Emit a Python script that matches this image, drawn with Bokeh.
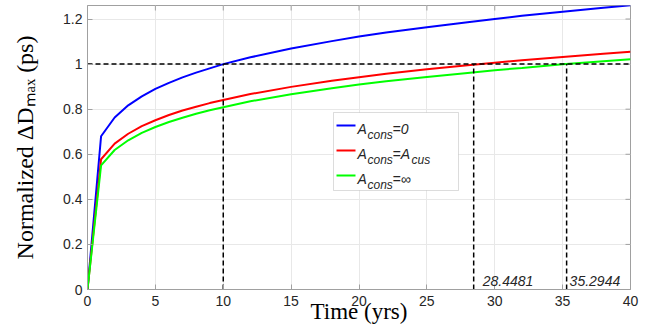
from bokeh.plotting import figure
from bokeh.models import Range1d, FixedTicker, Label, BoxAnnotation
from bokeh.embed import file_html
from bokeh.resources import INLINE

# ---------------- data ----------------
years = [0, 1, 2, 3, 4, 5, 6, 7, 8, 9, 10, 12, 15, 18, 20, 22, 25, 28, 30, 32, 35, 38, 40]
blue_zero = [0, 0.680, 0.763, 0.817, 0.857, 0.890, 0.917, 0.941, 0.962, 0.981, 1.000, 1.030,
             1.069, 1.102, 1.122, 1.140, 1.164, 1.186, 1.200, 1.214, 1.232, 1.250, 1.261]
red_cus = [0, 0.578, 0.647, 0.691, 0.725, 0.751, 0.774, 0.794, 0.811, 0.827, 0.841, 0.867,
           0.899, 0.926, 0.942, 0.957, 0.977, 0.995, 1.006, 1.017, 1.032, 1.046, 1.055]
green_inf = [0, 0.551, 0.619, 0.662, 0.695, 0.721, 0.743, 0.762, 0.780, 0.795, 0.809, 0.835,
             0.866, 0.893, 0.909, 0.924, 0.943, 0.961, 0.973, 0.983, 0.999, 1.013, 1.022]
series_colors = ["#0000ff", "#ff0000", "#00ff00"]
threshold = 1.0
cross_years = [10, 28.4481, 35.2944]
cross_labels = ["28.4481", "35.2944"]

x_ticks = [0, 5, 10, 15, 20, 25, 30, 35, 40]
y_ticks = [0, 0.2, 0.4, 0.6, 0.8, 1, 1.2]
y_tick_labels = ["0", "0.2", "0.4", "0.6", "0.8", "1", "1.2"]
x_title = "Time (yrs)"
y_title = "Normalized \u0394D\u2098\u2090\u2093 (ps)"

# ---------------- layout helpers (page pixel -> data) ----------------
W, H = 660, 329
FL, FR, FT, FB = 87, 630, 5, 289
X_END, Y_END = 40, 1.26
XS = (FR - FL) / X_END
YS = (FB - FT) / Y_END


def X(px):
    return (px - FL) / XS


def Y(py):
    return (FB - py) / YS


GRAY = "#a0a0a0"
TXT = "#262626"

p = figure(width=W, height=H, x_range=Range1d(0, X_END), y_range=Range1d(0, Y_END),
           output_backend="svg", toolbar_location=None,
           min_border_left=FL, min_border_right=W - FR, min_border_top=FT,
           min_border_bottom=H - FB,
           background_fill_color="white", border_fill_color="white")
p.outline_line_color = GRAY
p.outline_line_width = 1

for ax, ticks in ((p.xaxis[0], x_ticks), (p.yaxis[0], y_ticks)):
    ax.ticker = FixedTicker(ticks=ticks)
    ax.major_tick_in = 5
    ax.major_tick_out = 0
    ax.minor_tick_line_color = None
    ax.axis_line_color = GRAY
    ax.major_tick_line_color = GRAY
    ax.major_label_text_font = "Liberation Sans"
    ax.major_label_text_font_size = "14px"
    ax.major_label_text_color = TXT
    ax.axis_label_text_font = "Liberation Serif"
    ax.axis_label_text_font_style = "normal"
    ax.axis_label_text_color = "black"
p.xaxis[0].major_label_standoff = 6
p.yaxis[0].major_label_standoff = 5
p.yaxis[0].major_label_overrides = dict(zip(y_ticks, y_tick_labels))

p.xaxis[0].axis_label = x_title
p.xaxis[0].axis_label_text_font_size = "23px"
p.xaxis[0].axis_label_standoff = -10
p.yaxis[0].axis_label = y_title
p.yaxis[0].axis_label_text_font_size = "24px"
p.yaxis[0].axis_label_standoff = 22

p.xgrid.ticker = FixedTicker(ticks=x_ticks)
p.ygrid.ticker = FixedTicker(ticks=y_ticks)
p.grid.grid_line_color = "#e8e8e8"

# inward ticks on the top and right edges of the box
tick_len_x = 5 / XS
tick_len_y = 5 / YS
p.segment(x0=x_ticks, x1=x_ticks, y0=[Y_END] * len(x_ticks),
          y1=[Y_END - tick_len_y] * len(x_ticks), color=GRAY, line_width=1)
p.segment(x0=[X_END] * len(y_ticks), x1=[X_END - tick_len_x] * len(y_ticks),
          y0=y_ticks, y1=y_ticks, color=GRAY, line_width=1)

# curves
for ys, c in zip([blue_zero, red_cus, green_inf], series_colors):
    p.line(years, ys, color=c, line_width=2)

# dashed reference lines
p.line([x_ticks[0], x_ticks[-1]], [threshold, threshold], color="black", line_width=1.5,
       line_dash="5 3")
p.segment(x0=cross_years, y0=[0] * len(cross_years), x1=cross_years,
          y1=[threshold] * len(cross_years), color="black", line_width=1.5, line_dash="5 3")

# crossing value texts
for xv, txt, off in zip(cross_years[1:], cross_labels, [9, 3]):
    p.add_layout(Label(x=xv, y=Y(280), x_offset=off, text=txt, text_font="Liberation Sans",
                       text_font_style="italic", text_font_size="14px", text_color=TXT,
                       text_align="left", text_baseline="alphabetic"))

# legend
p.add_layout(BoxAnnotation(left=X(333), right=X(458), top=Y(112), bottom=Y(190),
                           fill_color="white", fill_alpha=1, line_color="#8c8c8c",
                           line_width=1))
rows = [125, 150, 175]
p.segment(x0=[X(336)] * 3, x1=[X(355)] * 3, y0=[Y(r) for r in rows], y1=[Y(r) for r in rows],
          color=series_colors, line_width=2, level="overlay")


def lab(px, py, txt, size):
    p.add_layout(Label(x=X(px), y=Y(py), text=txt, text_font="Liberation Sans",
                       text_font_style="italic", text_font_size=size, text_color=TXT,
                       text_align="left", text_baseline="alphabetic"))


for r in rows:
    lab(357, r + 3, "A", "14px")
    lab(367, r + 9, "cons", "12px")
lab(392, rows[0] + 3, "=0", "14px")
lab(392, rows[1] + 3, "=A", "14px")
lab(411, rows[1] + 9, "cus", "12px")
lab(392, rows[2] + 3, "=\u221e", "14px")

open("out.html", "w").write(file_html(p, INLINE))
